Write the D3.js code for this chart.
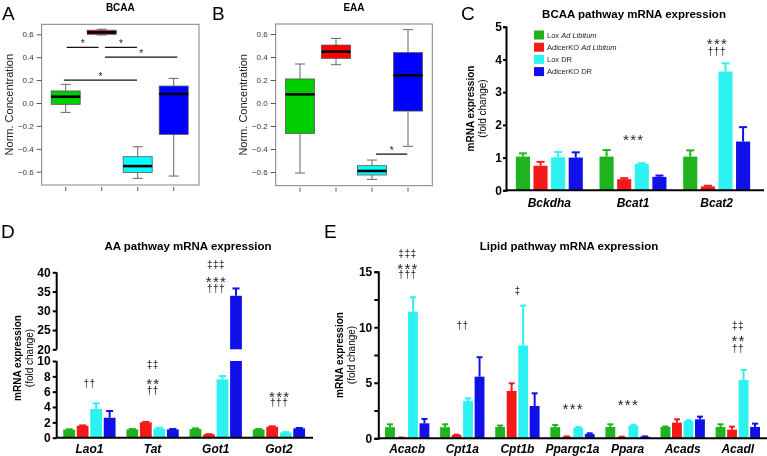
<!DOCTYPE html>
<html><head><meta charset="utf-8">
<script src="https://cdn.jsdelivr.net/npm/d3@7"></script>
<style>
html,body{margin:0;padding:0;background:#fff;}
svg{display:block;font-family:"Liberation Sans",Arial,Helvetica,sans-serif;will-change:transform;}
</style></head>
<body><svg id="c" width="767" height="456"></svg>
<script>
// ---------------- DATA ----------------
const groups = ["Lox Ad Libitum", "AdicerKO Ad Libitum", "Lox DR", "AdicerKO DR"];
// box plots: [whiskerLow, q1, median, q3, whiskerHigh] per group
const bcaaBoxes = [
  [-0.082, -0.012, 0.055, 0.105, 0.163],
  [0.594, 0.600, 0.617, 0.636, 0.644],
  [-0.658, -0.606, -0.551, -0.469, -0.382],
  [-0.638, -0.274, 0.079, 0.148, 0.215]
];
const eaaBoxes = [
  [-0.609, -0.264, 0.075, 0.209, 0.339],
  [0.333, 0.388, 0.446, 0.504, 0.562],
  [-0.664, -0.626, -0.591, -0.545, -0.496],
  [-0.377, -0.070, 0.241, 0.438, 0.638]
];
const boxTicks = [-0.6, -0.4, -0.2, 0.0, 0.2, 0.4, 0.6];
// significance brackets: [fromGroupIndex, toGroupIndex, yValue]
const bcaaSig = [[0.03, 0.91, 0.486], [1.09, 1.98, 0.486], [1.09, 3.1, 0.4], [-0.05, 1.98, 0.2]];
const eaaSig = [[2.11, 2.98, -0.444]];

// BCAA pathway
const bcaaGenes = ["Bckdha", "Bcat1", "Bcat2"];
const bcaaMeans = [[1.03, 0.75, 1.01, 1.00], [1.03, 0.34, 0.81, 0.41], [1.03, 0.12, 3.63, 1.49]];
const bcaaSem = [[0.10, 0.12, 0.16, 0.16], [0.20, 0.03, 0.02, 0.04], [0.19, 0.02, 0.25, 0.44]];
const bcaaNotes = [["Bcat1", 1.64, "***"], ["Bcat2", 4.59, "***"], ["Bcat2", 4.23, "†††"]];

// AA pathway
const aaGenes = ["Lao1", "Tat", "Got1", "Got2"];
const aaMeans = [[1.05, 1.55, 3.74, 2.6], [1.08, 2.0, 1.2, 1.08], [1.13, 0.43, 7.6, 33.9], [1.08, 1.43, 0.68, 1.22]];
const aaSem = [[0.05, 0.05, 0.74, 0.88], [0.05, 0.06, 0.1, 0.05], [0.08, 0.03, 0.44, 1.9], [0.05, 0.05, 0.05, 0.05]];
const aaNotes = [["Lao1", 7.1, "††"], ["Tat", 9.5, "‡‡"], ["Tat", 7.5, "**"], ["Tat", 6.2, "††"],
  ["Got1", 41.9, "‡‡‡"], ["Got1", 38.5, "***"], ["Got1", 35.9, "†††"], ["Got2", 5.8, "***"], ["Got2", 4.6, "†††"]];
const aaTicksLow = [0, 2, 4, 6, 8, 10];
const aaTicksHigh = [20, 25, 30, 35, 40];

// Lipid pathway
const lipidGenes = ["Acacb", "Cpt1a", "Cpt1b", "Ppargc1a", "Ppara", "Acads", "Acadl"];
const lipidMeans = [[1.0, 0.06, 11.4, 1.35], [1.0, 0.3, 3.36, 5.55], [1.02, 4.26, 8.35, 2.91], [1.0, 0.15, 0.96, 0.38],
  [1.02, 0.12, 1.14, 0.15], [1.02, 1.41, 1.56, 1.71], [1.02, 0.78, 5.25, 1.02]];
const lipidSem = [[0.26, 0.01, 1.3, 0.39], [0.26, 0.03, 0.24, 1.75], [0.13, 0.69, 3.6, 1.14], [0.2, 0.02, 0.05, 0.07],
  [0.24, 0.02, 0.08, 0.02], [0.04, 0.3, 0.08, 0.24], [0.24, 0.27, 0.9, 0.3]];
const lipidNotes = [["Acacb", 16.67, "‡‡‡"], ["Acacb", 15.55, "***"], ["Acacb", 14.71, "†††"], ["Cpt1a", 10.12, "††"],
  ["Cpt1b", 13.27, "‡"], ["Ppargc1a", 3.0, "***"], ["Ppara", 3.3, "***"],
  ["Acadl", 10.12, "‡‡"], ["Acadl", 9.06, "**"], ["Acadl", 8.1, "††"]];
const lipidTicks = [0, 2.5, 5, 7.5, 10, 12.5, 15];

// ---------------- STYLE ----------------
const boxColors = ["#00cd00", "#ff0000", "#00ffff", "#0000ff"];
const barColors = ["#1fb41f", "#f51a1a", "#2ef2f2", "#1010e8"];
const svg = d3.select("#c");

function letter(t, x, y) {
  svg.append("text").attr("x", x).attr("y", y).attr("font-size", 19).text(t);
}
letter("A", 2, 20); letter("B", 212, 20); letter("C", 461, 20); letter("D", 1, 238); letter("E", 324, 238);

// ---------------- BOX PLOTS ----------------
function boxPanel(opt) {
  const g = svg.append("g");
  const xi = d3.scaleLinear().domain([0, 3]).range(opt.xr);
  const y = d3.scaleLinear().domain([-0.6, 0.6]).range(opt.yr);
  const [fl, fr] = opt.frameX, [ft, fb] = opt.frameY;
  g.append("rect").attr("x", fl).attr("y", ft).attr("width", fr - fl).attr("height", fb - ft)
    .attr("fill", "none").attr("stroke", "#808080").attr("stroke-width", 1);
  const ya = g.append("g").attr("transform", `translate(${fl},0)`)
    .call(d3.axisLeft(y).tickValues(boxTicks).tickFormat(d3.format(".1f")).tickSize(5).tickPadding(3));
  ya.select(".domain").remove();
  ya.selectAll("line").attr("stroke", "#555");
  ya.selectAll("text").attr("font-size", 8).attr("fill", "#333").attr("font-family", "Liberation Sans, Arial");
  g.selectAll(".xt").data(groups).join("line")
    .attr("x1", (d, i) => xi(i)).attr("x2", (d, i) => xi(i)).attr("y1", fb + 2).attr("y2", fb + 6)
    .attr("stroke", "#555");
  g.append("text").attr("transform", `translate(${opt.ylabX},${(ft + fb) / 2}) rotate(-90)`)
    .attr("text-anchor", "middle").attr("dominant-baseline", "central").attr("font-size", 11).attr("fill", "#222")
    .text("Norm. Concentration");
  g.append("text").attr("x", (fl + fr) / 2).attr("y", 10.5).attr("text-anchor", "middle")
    .attr("font-size", 10).attr("font-weight", "bold").text(opt.title);
  const bw = 29, cw = 10;
  opt.data.forEach((b, i) => {
    const cx = xi(i);
    g.append("line").attr("x1", cx).attr("x2", cx).attr("y1", y(b[0])).attr("y2", y(b[1])).attr("stroke", "#666");
    g.append("line").attr("x1", cx).attr("x2", cx).attr("y1", y(b[3])).attr("y2", y(b[4])).attr("stroke", "#666");
    [b[0], b[4]].forEach(v => g.append("line").attr("x1", cx - cw / 2).attr("x2", cx + cw / 2)
      .attr("y1", y(v)).attr("y2", y(v)).attr("stroke", "#666"));
    g.append("rect").attr("x", cx - bw / 2).attr("width", bw).attr("y", y(b[3])).attr("height", y(b[1]) - y(b[3]))
      .attr("fill", boxColors[i]).attr("stroke", "#555").attr("stroke-width", 0.8);
    g.append("line").attr("x1", cx - bw / 2).attr("x2", cx + bw / 2).attr("y1", y(b[2])).attr("y2", y(b[2]))
      .attr("stroke", "#000").attr("stroke-width", 2.6);
  });
  opt.sig.forEach(s => {
    g.append("line").attr("x1", xi(s[0])).attr("x2", xi(s[1])).attr("y1", y(s[2])).attr("y2", y(s[2]))
      .attr("stroke", "#111").attr("stroke-width", 1.3);
    g.append("text").attr("x", (xi(s[0]) + xi(s[1])) / 2).attr("y", y(s[2]) - 0.5).attr("text-anchor", "middle")
      .attr("font-size", 10).attr("fill", "#222").text("*");
  });
}
boxPanel({title: "BCAA", data: bcaaBoxes, sig: bcaaSig, xr: [65.7, 173.7], yr: [171.7, 34.3],
  frameX: [41.7, 199], frameY: [24.3, 185], ylabX: 9});
boxPanel({title: "EAA", data: eaaBoxes, sig: eaaSig, xr: [300, 408], yr: [172, 34],
  frameX: [275.7, 432.3], frameY: [24, 185.7], ylabX: 243});

// ---------------- BAR PANELS ----------------
function styleAxis(a) {
  a.select(".domain").attr("stroke", "#000").attr("stroke-width", 2);
  a.selectAll(".tick line").attr("stroke", "#000").attr("stroke-width", 2);
  a.selectAll("text").attr("font-size", 12).attr("font-weight", "bold").attr("fill", "#000")
    .attr("font-family", "Liberation Sans, Arial");
}
function ylab(x, yc) {
  const t = svg.append("text").attr("transform", `translate(${x},${yc}) rotate(-90)`).attr("text-anchor", "middle")
    .attr("font-size", 10);
  t.append("tspan").attr("x", 0).attr("dy", 0).attr("font-weight", "bold").text("mRNA expression");
  t.append("tspan").attr("x", 0).attr("dy", 12).text("(fold change)");
}
function title(t, x, y) {
  svg.append("text").attr("x", x).attr("y", y).attr("text-anchor", "middle").attr("font-size", 11.5)
    .attr("font-weight", "bold").text(t);
}
function bars(g, genes, means, sems, x0, x1, yf, capW) {
  genes.forEach((gene, gi) => {
    means[gi].forEach((m, k) => {
      const xl = x0(gene) + x1(groups[k]), w = x1.bandwidth(), cx = xl + w / 2;
      const segs = yf(m, sems[gi][k]);
      segs.rects.forEach(r => g.append("rect").attr("x", xl).attr("width", w).attr("y", r[0]).attr("height", r[1] - r[0])
        .attr("fill", barColors[k]));
      g.append("line").attr("x1", cx).attr("x2", cx).attr("y1", segs.top).attr("y2", segs.err)
        .attr("stroke", barColors[k]).attr("stroke-width", 2);
      g.append("line").attr("x1", cx - capW / 2).attr("x2", cx + capW / 2).attr("y1", segs.err).attr("y2", segs.err)
        .attr("stroke", barColors[k]).attr("stroke-width", 2);
    });
  });
}
// stacked significance marks: one text element per gene, one tspan per line
function notes(g, list, x0, ys) {
  const byGene = d3.group(list, d => d[0]);
  byGene.forEach((items, gene) => {
    const cx = x0(gene) + x0.bandwidth() / 2;
    const t = g.append("text").attr("text-anchor", "middle").attr("fill", "#222");
    items.forEach(n => {
      const star = n[2].indexOf("*") >= 0;
      t.append("tspan").attr("x", cx + (star ? 0.8 : 0.25)).attr("y", ys(n[1]))
        .attr("dy", star ? "0.58em" : "0.35em")
        .attr("font-size", star ? 15 : 10).attr("letter-spacing", star ? 1.3 : 0.5).text(n[2]);
    });
  });
}
function catLabels(g, genes, x0, y) {
  genes.forEach(gn => g.append("text").attr("x", x0(gn) + x0.bandwidth() / 2).attr("y", y).attr("text-anchor", "middle")
    .attr("font-size", 12).attr("font-weight", "bold").attr("font-style", "italic").text(gn));
}

// Panel C
{
  const g = svg.append("g");
  const axX = 506, bottom = 190.3;
  const x0 = d3.scaleBand().domain(bcaaGenes).range([507.5, 758.5]).paddingInner(0.2).paddingOuter(0.1);
  const x1 = d3.scaleBand().domain(groups).range([0, x0.bandwidth()]).paddingInner(0.2);
  const y = d3.scaleLinear().domain([0, 5]).range([bottom, 26.7]);
  bars(g, bcaaGenes, bcaaMeans, bcaaSem, x0, x1, (m, s) => ({rects: [[y(m), y(0)]], top: y(m), err: y(m + s)}), 8);
  g.append("line").attr("x1", axX).attr("x2", 764).attr("y1", bottom).attr("y2", bottom).attr("stroke", "#000").attr("stroke-width", 2);
  const a = g.append("g").attr("transform", `translate(${axX},0)`).call(d3.axisLeft(y).ticks(5).tickSize(3).tickPadding(1));
  styleAxis(a);
  notes(g, bcaaNotes, x0, y);
  catLabels(g, bcaaGenes, x0, 207);
  title("BCAA pathway mRNA expression", 634, 18);
  ylab(474, 108.5);
  const lg = g.append("g");
  groups.forEach((gr, i) => {
    const yy = 35 + i * 12.2;
    lg.append("rect").attr("x", 534).attr("y", yy - 4.5).attr("width", 10).attr("height", 9).attr("fill", barColors[i]);
    const t = lg.append("text").attr("x", 547).attr("y", yy).attr("dominant-baseline", "central").attr("font-size", 7.5).attr("fill", "#222");
    if (gr.indexOf("Ad Libitum") >= 0) {
      t.append("tspan").text(gr.replace(" Ad Libitum", "") + " ");
      t.append("tspan").attr("font-style", "italic").text("Ad Libitum");
    } else t.text(gr);
  });
}

// Panel D (broken axis)
{
  const g = svg.append("g");
  const axX = 56.7;
  const x0 = d3.scaleBand().domain(aaGenes).range([57.8, 310.5]).paddingInner(0.172).paddingOuter(0.086);
  const x1 = d3.scaleBand().domain(groups).range([0, x0.bandwidth()]).paddingInner(0.126);
  const yLow = d3.scaleLinear().domain([0, 10]).range([437.7, 361]);
  const yHigh = d3.scaleLinear().domain([20, 40]).range([349.3, 272.3]);
  const ys = v => v > 15 ? yHigh(v) : yLow(v);
  bars(g, aaGenes, aaMeans, aaSem, x0, x1, (m, s) => {
    if (m <= 10) return {rects: [[yLow(m), yLow(0)]], top: yLow(m), err: yLow(m + s)};
    return {rects: [[yLow(10), yLow(0)], [yHigh(m), yHigh(20)]], top: yHigh(m), err: yHigh(m + s)};
  }, 7);
  g.append("line").attr("x1", axX).attr("x2", 313).attr("y1", 437.7).attr("y2", 437.7).attr("stroke", "#000").attr("stroke-width", 2);
  const a1 = g.append("g").attr("transform", `translate(${axX},0)`).call(d3.axisLeft(yLow).tickValues(aaTicksLow).tickSize(4).tickPadding(2));
  const a2 = g.append("g").attr("transform", `translate(${axX},0)`).call(d3.axisLeft(yHigh).tickValues(aaTicksHigh).tickSize(4).tickPadding(2));
  styleAxis(a1); styleAxis(a2);
  a1.select(".domain").attr("d", `M0,${yLow(0)}V${yLow(10)}`);
  a2.select(".domain").attr("d", `M0,${yHigh(20)}V${yHigh(40)}`);
  notes(g, aaNotes, x0, ys);
  catLabels(g, aaGenes, x0, 453);
  title("AA pathway mRNA expression", 188, 250);
  ylab(21, 358);
}

// Panel E
{
  const g = svg.append("g");
  const axX = 378.3, bottom = 438.3;
  const x0 = d3.scaleBand().domain(lipidGenes).range([379.65, 765.35]).paddingInner(0.195).paddingOuter(0.0975);
  const x1 = d3.scaleBand().domain(groups).range([0, x0.bandwidth()]).paddingInner(0.143);
  const y = d3.scaleLinear().domain([0, 15]).range([bottom, 271.7]);
  bars(g, lipidGenes, lipidMeans, lipidSem, x0, x1, (m, s) => ({rects: [[y(m), y(0)]], top: y(m), err: y(m + s)}), 6);
  g.append("line").attr("x1", axX).attr("x2", 767).attr("y1", bottom).attr("y2", bottom).attr("stroke", "#000").attr("stroke-width", 2);
  const a = g.append("g").attr("transform", `translate(${axX},0)`)
    .call(d3.axisLeft(y).tickValues(lipidTicks).tickFormat(d => d % 5 === 0 ? d : "").tickSize(4).tickPadding(2));
  styleAxis(a);
  notes(g, lipidNotes, x0, y);
  catLabels(g, lipidGenes, x0, 453);
  title("Lipid pathway mRNA expression", 569, 250);
  ylab(343, 355);
}
</script></body></html>
